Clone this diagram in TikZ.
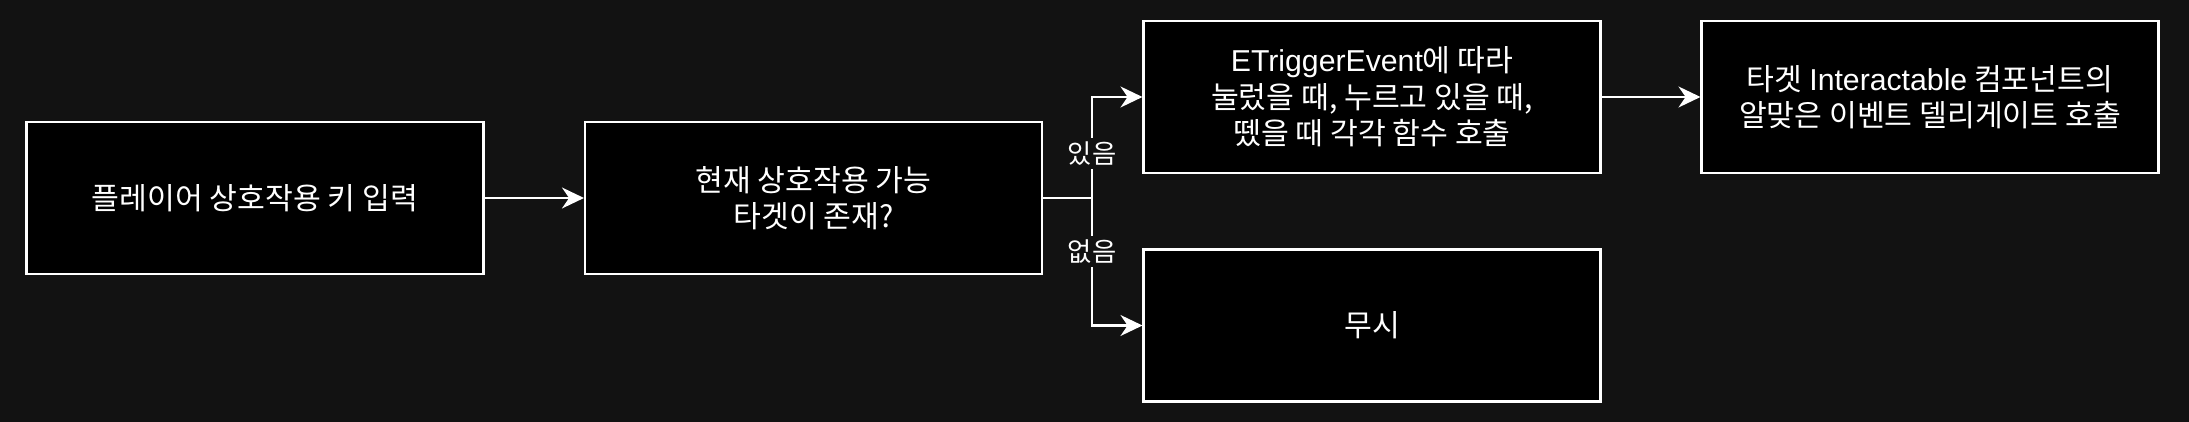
\documentclass[tikz,border=0pt]{standalone}
\usepackage{fontspec}
\setmainfont{Noto Sans CJK KR}
\newfontfamily\latinfont{Liberation Sans}
\usetikzlibrary{arrows.meta}
\definecolor{bgdark}{RGB}{18,18,18}
\begin{document}
\begin{tikzpicture}[
    box/.style={draw=white,fill=black,line width=0.6pt,minimum width=4.57cm,minimum height=1.52cm,
      inner sep=0pt,align=center,text=white,font=\fontsize{8.6}{10.4}\selectfont},
    flow/.style={draw=white,line width=0.6pt,-{Stealth[length=0.22cm,width=0.21cm]}},
    tag/.style={fill=bgdark,text=white,inner sep=1pt,font=\fontsize{7.5}{8.6}\selectfont}]
  \fill[bgdark](0,0)rectangle(21.89,4.22);
  \node[box](input) at (2.55,2.24) {플레이어 상호작용 키 입력};
  \node[box](check) at (8.135,2.24) {현재 상호작용 가능\\타겟이 존재?};
  \node[box](hit) at (13.72,3.25) {{\latinfont ETriggerEvent}에 따라\\눌렀을 때, 누르고 있을 때,\\뗐을 때 각각 함수 호출};
  \node[box](call) at (19.30,3.25) {타겟 {\latinfont Interactable} 컴포넌트의\\알맞은 이벤트 델리게이트 호출};
  \node[box](skip) at (13.72,0.965) {무시};
  \coordinate (split) at (10.92,2.24);
  \draw[flow](input)--(check);
  \draw[flow](check.east)--(split)|-node[tag,pos=0.22]{있음}(hit.west);
  \draw[flow](check.east)--(split)|-node[tag,pos=0.21]{없음}(skip.west);
  \draw[flow](hit)--(call);
\end{tikzpicture}
\end{document}
